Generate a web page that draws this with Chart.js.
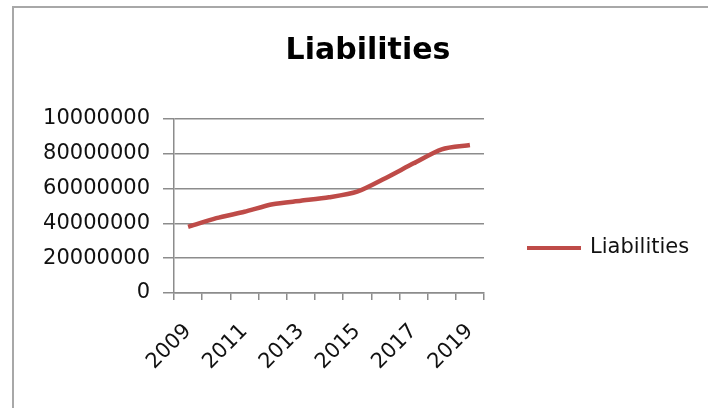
<!DOCTYPE html>
<html>
<head>
<meta charset="utf-8">
<script src="https://cdn.jsdelivr.net/npm/chart.js@4.4.0/dist/chart.umd.min.js"></script>
<style>
  body { margin: 0; background: #fff; }
</style>
</head>
<body>
<canvas id="chart" width="708" height="408"></canvas>
<script>
const years = ['2009','2010','2011','2012','2013','2014','2015','2016','2017','2018','2019'];
const liabilities = [38000000, 43000000, 46700000, 51000000, 53000000, 55000000, 58200000, 66000000, 74500000, 82600000, 85000000];
const yTickLabels = ['0','20000000','40000000','60000000','80000000','10000000'];
const xShown = ['2009','2011','2013','2015','2017','2019'];

const lineColor = '#be4b48';
const axisColor = '#8c8c8c';
const font = 'DejaVu Sans';

// grey frame around the chart, like the spreadsheet chart box
const frame = {
    id: 'frame',
    beforeDraw(chart) {
        const c = chart.ctx;
        c.save();
        c.fillStyle = '#fff';
        c.fillRect(0, 0, chart.width, chart.height);
        c.strokeStyle = '#a8a8a8';
        c.lineWidth = 2;
        c.strokeRect(13, 7, chart.width + 20, chart.height + 20);
        c.restore();
    }
};

// legend on the right, placed by hand
const sideLegend = {
    id: 'sideLegend',
    afterDraw(chart) {
        const c = chart.ctx;
        const ds = chart.data.datasets[0];
        c.save();
        c.strokeStyle = ds.borderColor;
        c.lineWidth = 4;
        c.beginPath();
        c.moveTo(527, 248);
        c.lineTo(581, 248);
        c.stroke();
        c.fillStyle = '#111';
        c.font = '21px "' + font + '"';
        c.textBaseline = 'middle';
        c.fillText(ds.label, 590, 248);
        c.restore();
    }
};

let ctx = document.getElementById('chart').getContext('2d');

new Chart(ctx, {
    type: 'line',
    data: {
        labels: years,
        datasets: [{
            label: 'Liabilities',
            data: liabilities,
            borderColor: lineColor,
            backgroundColor: lineColor,
            borderWidth: 4.5,
            pointRadius: 0,
            tension: 0.25,
            yAxisID: 'y'
        }]
    },
    options: {
        responsive: false,
        animation: false,
        layout: { padding: { left: 28, right: 0, top: 0, bottom: 0 } },
        plugins: {
            legend: { display: false },
            tooltip: { enabled: false },
            title: {
                display: true,
                text: 'Liabilities',
                color: '#000',
                font: { family: font, size: 30, weight: 'bold', lineHeight: 1.2 },
                padding: { top: 33, bottom: 50 }
            }
        },
        scales: {
            x: {
                offset: true,
                grid: { offset: true, drawOnChartArea: false, drawTicks: true, tickLength: 7, color: axisColor, lineWidth: 1.5 },
                border: { color: axisColor, width: 1.5 },
                ticks: {
                    autoSkip: false,
                    minRotation: 45,
                    maxRotation: 45,
                    padding: 19,
                    color: '#111',
                    font: { family: font, size: 21 },
                    callback: function(v, i) {
                        const l = years[i];
                        return xShown.includes(l) ? l : '';
                    }
                },
                afterFit: s => { s.height = 115; }
            },
            y: {
                min: 0,
                max: 100000000,
                ticks: {
                    stepSize: 20000000,
                    padding: 13,
                    color: '#111',
                    font: { family: font, size: 21 },
                    callback: (v, i) => yTickLabels[i]
                },
                grid: { color: axisColor, lineWidth: 1.5, tickLength: 11 },
                border: { color: axisColor, width: 1.5 },
                afterFit: s => { s.width = 146; }
            },
            yr: {
                position: 'right',
                display: true,
                ticks: { display: false },
                grid: { display: false },
                border: { display: false },
                afterFit: s => { s.width = 224; }
            }
        }
    },
    plugins: [frame, sideLegend]
});
</script>
</body>
</html>
